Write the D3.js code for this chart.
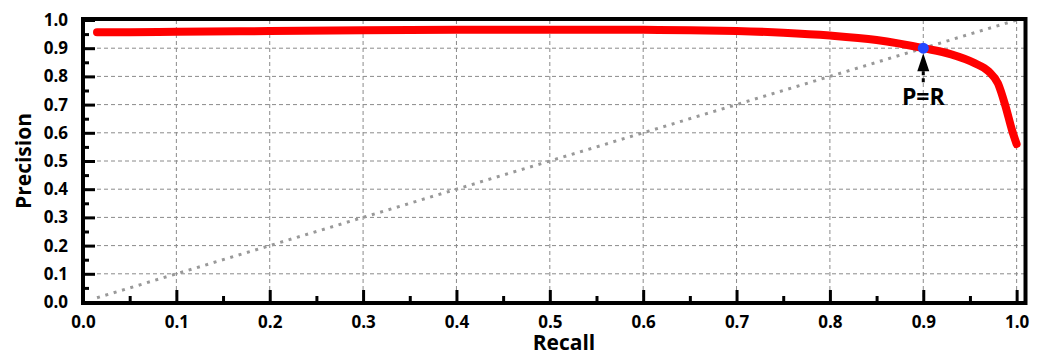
<!DOCTYPE html>
<html>
<head>
<meta charset="utf-8">
<script src="https://cdn.jsdelivr.net/npm/d3@7"></script>
<style>
  body { margin: 0; background: #fff; }
  text { font-family: "Open Sans", "DejaVu Sans", sans-serif; font-weight: 700; fill: #000; }
</style>
</head>
<body>
<svg id="board"></svg>
<script>
let recall    = [0.015, 0.05, 0.1, 0.2, 0.3, 0.4, 0.5, 0.6, 0.65, 0.7, 0.75, 0.8, 0.85, 0.9, 0.93, 0.955, 0.97, 0.98, 0.988, 0.995, 1.0]
let precision = [0.957, 0.957, 0.958, 0.961, 0.964, 0.965, 0.965, 0.965, 0.964, 0.961, 0.955, 0.945, 0.929, 0.9, 0.878, 0.847, 0.818, 0.775, 0.695, 0.61, 0.56]
let diagonal  = [[0.015, 0.015], [1.0, 1.0]]
let prPoint   = [0.9, 0.9]
let majorTicks = [0, 0.1, 0.2, 0.3, 0.4, 0.5, 0.6, 0.7, 0.8, 0.9, 1.0]
let minorTicks = [0.05, 0.15, 0.25, 0.35, 0.45, 0.55, 0.65, 0.75, 0.85, 0.95]

let width = 1037
let height = 355
let padLeft = 83, padRight = 1025.5, padTop = 20, padBottom = 302

let board = d3.select('#board')
                .attr('width', width)
                .attr('height', height)

let xScale = d3.scaleLinear()
                .domain([0, 1.0095])
                .range([padLeft, padRight])

let yScale = d3.scaleLinear()
                .domain([0, 1])
                .range([padBottom, padTop])

// dashed grid
board.append('g')
    .selectAll('line')
    .data(majorTicks.filter(t => t > 0))
    .enter()
    .append('line')
    .attr('x1', d => xScale(d)).attr('x2', d => xScale(d))
    .attr('y1', padTop).attr('y2', padBottom)
    .attr('stroke', '#8a8a8a').attr('stroke-width', 1).attr('stroke-dasharray', '4,3')

board.append('g')
    .selectAll('line')
    .data(majorTicks.filter(t => t > 0 && t < 1))
    .enter()
    .append('line')
    .attr('x1', padLeft).attr('x2', padRight)
    .attr('y1', d => yScale(d)).attr('y2', d => yScale(d))
    .attr('stroke', '#8a8a8a').attr('stroke-width', 1).attr('stroke-dasharray', '4,3')

// P = R diagonal
board.append('line')
    .attr('x1', xScale(diagonal[0][0])).attr('y1', yScale(diagonal[0][1]))
    .attr('x2', xScale(diagonal[1][0])).attr('y2', yScale(diagonal[1][1]))
    .attr('stroke', '#999').attr('stroke-width', 3).attr('stroke-dasharray', '3,5.7')

// axes
let xAxis = d3.axisBottom(xScale).tickValues(majorTicks).tickFormat(d3.format('.1f'))
                .tickSize(-12).tickPadding(14)
let xMinor = d3.axisBottom(xScale).tickValues(minorTicks).tickFormat('').tickSize(-6)
let yAxis = d3.axisLeft(yScale).tickValues(majorTicks).tickFormat(d3.format('.1f'))
                .tickSize(-12).tickPadding(15)
let yMinor = d3.axisLeft(yScale).tickValues(minorTicks).tickFormat('').tickSize(-6)

let styleAxis = (g) => {
    g.select('.domain').remove()
    g.selectAll('line').attr('stroke', '#000').attr('stroke-width', 3)
    g.selectAll('text').style('font-size', '17px').attr('fill', '#000')
}

board.append('g').attr('transform', 'translate(0,' + padBottom + ')').call(xAxis).call(styleAxis)
board.append('g').attr('transform', 'translate(0,' + padBottom + ')').call(xMinor).call(styleAxis)
board.append('g').attr('transform', 'translate(' + padLeft + ',0)').call(yAxis).call(styleAxis)
board.append('g').attr('transform', 'translate(' + padLeft + ',0)').call(yMinor).call(styleAxis)

// frame
board.append('rect')
    .attr('x', padLeft).attr('y', padTop - 1)
    .attr('width', padRight - padLeft).attr('height', padBottom - padTop + 2)
    .attr('fill', 'none').attr('stroke', '#000').attr('stroke-width', 4)

// PR curve
let line = d3.line()
    .x(i => xScale(recall[i]))
    .y(i => yScale(precision[i]))
    .curve(d3.curveMonotoneX)

board.append('path')
    .datum(d3.range(recall.length))
    .attr('d', line)
    .attr('fill', 'none')
    .attr('stroke', '#ff0000')
    .attr('stroke-width', 8)
    .attr('stroke-linecap', 'round')
    .attr('stroke-linejoin', 'round')

// P=R marker
let px = xScale(prPoint[0]), py = yScale(prPoint[1])
board.append('circle')
    .attr('cx', px).attr('cy', py).attr('r', 5.5)
    .attr('fill', '#2448ff')

board.append('path')
    .attr('d', 'M' + px + ',' + (py + 5) + ' L' + (px - 6) + ',' + (py + 23) + ' L' + (px + 6) + ',' + (py + 23) + ' Z')
    .attr('fill', '#000')

board.append('line')
    .attr('x1', px).attr('x2', px)
    .attr('y1', py + 23).attr('y2', py + 36)
    .attr('stroke', '#000').attr('stroke-width', 3).attr('stroke-dasharray', '4,3')

board.append('text')
    .attr('x', px).attr('y', py + 57)
    .attr('text-anchor', 'middle')
    .style('font-size', '23px')
    .text('P=R')

// axis titles
board.append('text')
    .attr('x', 564).attr('y', 350)
    .attr('text-anchor', 'middle')
    .style('font-size', '21px')
    .text('Recall')

board.append('text')
    .attr('transform', 'translate(31,161) rotate(-90)')
    .attr('text-anchor', 'middle')
    .style('font-size', '21px')
    .text('Precision')
</script>
</body>
</html>
